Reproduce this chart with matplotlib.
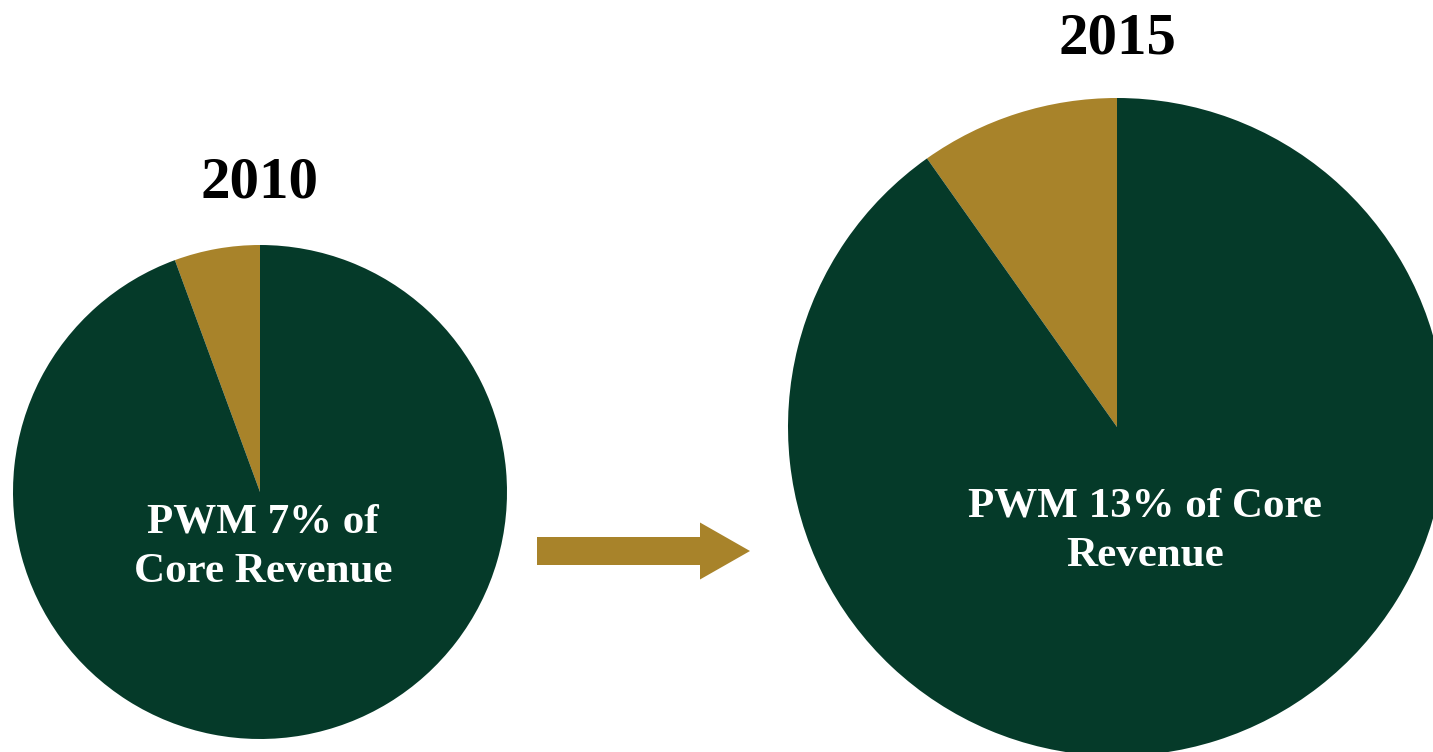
"""
Two pies showing the PWM share of core revenue, 2010 vs 2015.
"""
from matplotlib import pyplot as plt

# share of core revenue
years = ["2010", "2015"]
pwm_share = [5.6, 9.8]
other_share = [94.4, 90.2]
labels = ["PWM 7% of\nCore Revenue", "PWM 13% of Core\nRevenue"]

GREEN = "#053a29"
GOLD = "#a8832a"
W, H = 1433, 752

fig = plt.figure(figsize=(W / 100, H / 100), dpi=100)
ax = fig.add_axes([0, 0, 1, 1])

# pie placement in pixel coords (y measured from bottom)
centers = [(260, 260), (1117, 325)]
radii = [247, 329]
title_pos = [(260, 554), (1117, 698)]
label_pos = [(263, 205), (1145, 221)]

for i in range(len(years)):
    ax.pie([pwm_share[i], other_share[i]],
           colors=[GOLD, GREEN],
           startangle=90,
           counterclock=True,
           center=centers[i],
           radius=radii[i],
           wedgeprops=dict(linewidth=0))
    ax.text(title_pos[i][0], title_pos[i][1], years[i],
            fontsize=42.5, fontweight="bold", family="Liberation Serif",
            ha="center", va="baseline", color="black")
    ax.text(label_pos[i][0], label_pos[i][1], labels[i],
            fontsize=31, fontweight="bold", family="Liberation Serif",
            ha="center", va="center", color="white", linespacing=1.38,
            multialignment="center")

# arrow between the pies
ax.arrow(537, 201, 213, 0, width=28, head_width=57, head_length=50,
         length_includes_head=True, facecolor=GOLD, edgecolor="none")

ax.set_xlim(0, W)
ax.set_ylim(0, H)
ax.set_aspect("equal")
ax.axis("off")

fig.savefig("out.png", dpi=100)
